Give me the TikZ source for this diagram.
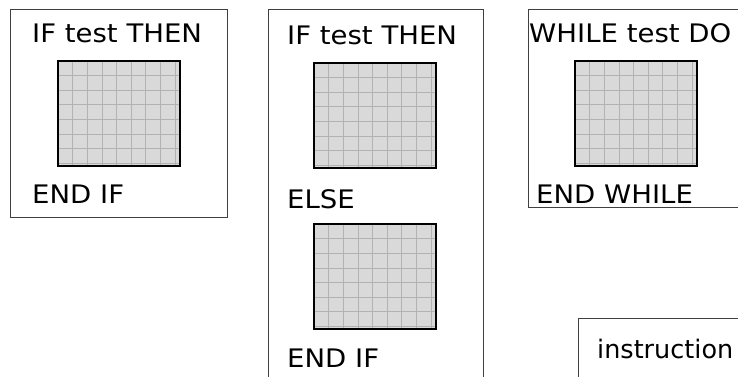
\documentclass[tikz,border=0pt]{standalone}
\usepackage{fontspec}
\setmainfont{DejaVu Sans}
\begin{document}
\begin{tikzpicture}[x=1pt,y=-1pt,
  frame/.style={draw=black!75, line width=1pt},
  lbl/.style={anchor=base west, inner sep=0pt, font=\fontsize{25.5}{28}\selectfont, xscale=1.08},
  lowlbl/.style={anchor=base west, inner sep=0pt, font=\fontsize{25.5}{28}\selectfont},
  gridfill/.style={fill=black!15},
  gridline/.style={draw=black!30, line width=0.6pt},
  gridborder/.style={draw=black, line width=2pt}]
\useasboundingbox (0,0) rectangle (738,377);
\newcommand{\gridbox}[3]{%
  \begin{scope}[shift={(#1,#2)}]
    \fill[gridfill] (0,0) rectangle (122,105);
    \foreach \i in {1,...,8} \draw[gridline] (\i*14.6,0) -- (\i*14.6,105);
    \foreach \j in {1,...,7} \draw[gridline] (0,\j*14.6) -- (122,\j*14.6);
    \draw[gridborder] (0,0) rectangle (122,105);
    \coordinate (#3) at (61,52);
  \end{scope}}
% box 1
\draw[frame] (10.5,9.5) rectangle (227.5,217.5);
\gridbox{58}{61}{g1}
\node[lbl] (t1) at (32,43) {IF test THEN};
\node[lbl] (e1) at (32,203) {END IF};
% box 2
\draw[frame] (268.5,377) -- (268.5,9.5) -- (483.5,9.5) -- (483.5,377);
\gridbox{314}{63}{g2}
\gridbox{314}{224}{g3}
\node[lbl] (t2) at (287,45) {IF test THEN};
\node[lbl] (el2) at (287,208) {ELSE};
\node[lbl] (e2) at (287,367) {END IF};
% box 3
\draw[frame] (738,9.5) -- (528.5,9.5) -- (528.5,207.5) -- (738,207.5);
\gridbox{575}{61}{g4}
\node[lbl] (t3) at (529,43) {WHILE test DO};
\node[lbl] (e3) at (536,203) {END WHILE};
% box 4
\draw[frame] (738,318.5) -- (578.5,318.5) -- (578.5,377);
\node[lowlbl] (i4) at (597,358) {instruction};
\end{tikzpicture}
\end{document}
